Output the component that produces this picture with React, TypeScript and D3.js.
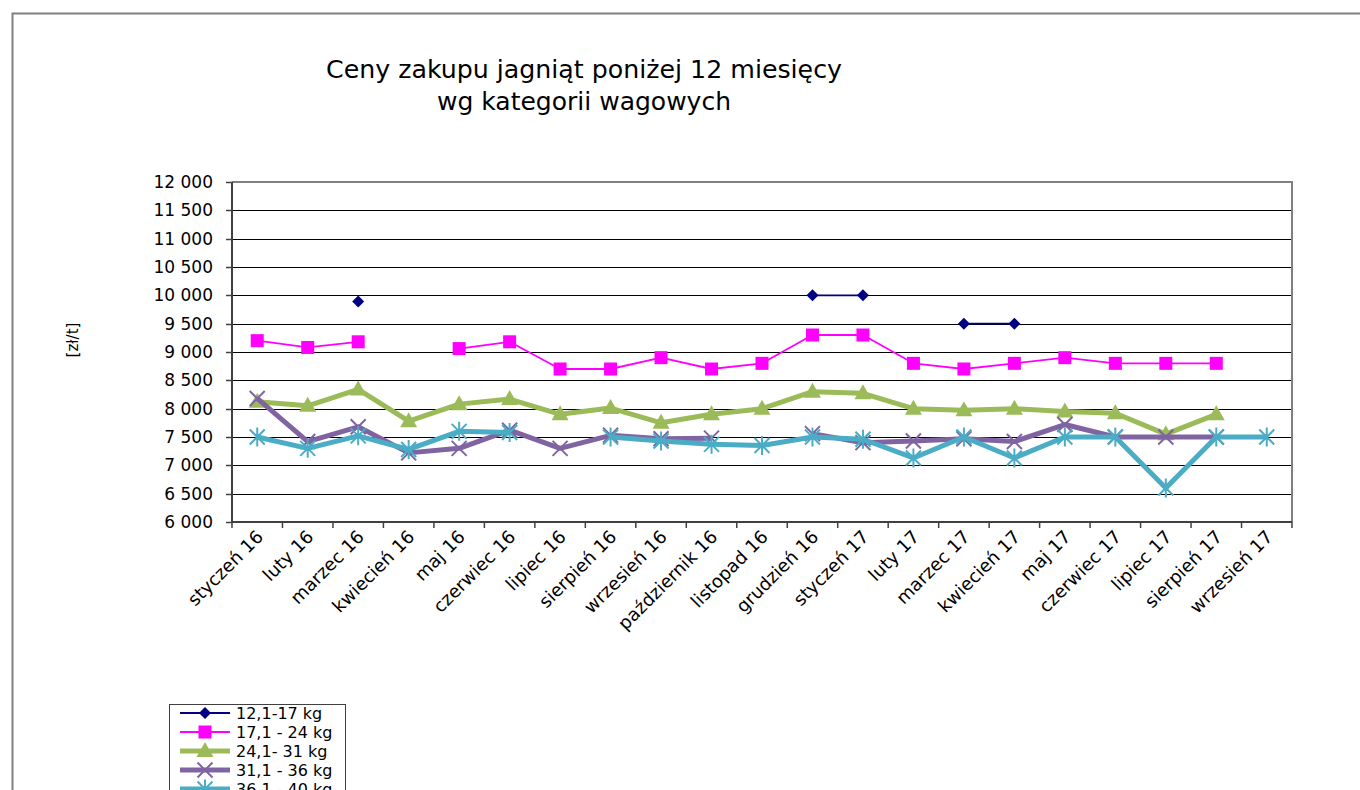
import React from 'react';
import * as d3 from 'd3';

const categories = ['styczeń 16','luty 16','marzec 16','kwiecień 16','maj 16','czerwiec 16','lipiec 16','sierpień 16','wrzesień 16','październik 16','listopad 16','grudzień 16','styczeń 17','luty 17','marzec 17','kwiecień 17','maj 17','czerwiec 17','lipiec 17','sierpień 17','wrzesień 17'];

const s12_17: (number | null)[] = [null,null,9890,null,null,null,null,null,null,null,null,10000,10000,null,9500,9500,null,null,null,null,null];
const s17_24: (number | null)[] = [9200,9080,9180,null,9060,9180,8700,8700,8900,8700,8800,9300,9300,8800,8700,8800,8900,8800,8800,8800,null];
const s24_31: (number | null)[] = [8120,8050,8340,7780,8080,8170,7900,8010,7750,7900,8000,8300,8270,8000,7970,8000,7950,7920,7550,7900,null];
const s31_36: (number | null)[] = [8180,7420,7680,7220,7300,7620,7300,7530,7470,7480,null,7560,7400,7430,7470,7420,7720,7500,7500,7500,null];
const s36_40: (number | null)[] = [7500,7300,7520,7280,7600,7580,null,7500,7430,7370,7350,7500,7460,7130,7500,7130,7500,7500,6600,7500,7500];

const seriesNames = ['12,1-17 kg','17,1 - 24 kg','24,1- 31 kg','31,1 - 36 kg','36,1 - 40 kg'];
const yTicks = [6000,6500,7000,7500,8000,8500,9000,9500,10000,10500,11000,11500,12000];

const titleLines = ['Ceny zakupu jagniąt poniżej 12 miesięcy', 'wg kategorii wagowych'];
const yAxisTitle = '[zł/t]';

type Style = { color: string; width: number; marker: string };
const styles: Style[] = [
  { color: '#000080', width: 1.8, marker: 'diamond' },
  { color: '#FF00FF', width: 1.8, marker: 'square' },
  { color: '#9BBB59', width: 5, marker: 'triangle' },
  { color: '#8064A2', width: 5, marker: 'x' },
  { color: '#4BACC6', width: 5, marker: 'asterisk' },
];
const allSeries = [s12_17, s17_24, s24_31, s31_36, s36_40];

const L = 232, R = 1292, T = 182, B = 522;
const x = d3.scaleBand<string>().domain(categories).range([L, R]).padding(0);
const y = d3.scaleLinear().domain([6000, 12000]).range([B, T]);
const fmt = (v: number) => d3.format(',')(v).replace(/,/g, ' ');

function Marker({ kind, cx, cy, color }: { kind: string; cx: number; cy: number; color: string }) {
  if (kind === 'diamond') {
    const r = 6;
    return <path d={`M${cx},${cy - r}L${cx + r},${cy}L${cx},${cy + r}L${cx - r},${cy}Z`} fill={color} />;
  }
  if (kind === 'square') {
    const s = 13;
    return <rect x={cx - s / 2} y={cy - s / 2} width={s} height={s} fill={color} />;
  }
  if (kind === 'triangle') {
    return <path d={`M${cx},${cy - 9}L${cx + 8.5},${cy + 6}L${cx - 8.5},${cy + 6}Z`} fill={color} />;
  }
  if (kind === 'x') {
    const r = 7.5;
    return <path d={`M${cx - r},${cy - r}L${cx + r},${cy + r}M${cx - r},${cy + r}L${cx + r},${cy - r}`} stroke={color} strokeWidth={2} fill="none" />;
  }
  const r = 7.5;
  return <path d={`M${cx - r},${cy - r}L${cx + r},${cy + r}M${cx - r},${cy + r}L${cx + r},${cy - r}M${cx},${cy - 9.5}L${cx},${cy + 9.5}`} stroke={color} strokeWidth={2} fill="none" />;
}

export default function App() {
  const bw = x.bandwidth();
  const cx = (c: string) => (x(c) as number) + bw / 2;
  const line = d3.line<number | null>()
    .defined(d => d != null)
    .x((_, i) => cx(categories[i]))
    .y(d => y(d as number));
  const boundaries = d3.range(categories.length + 1).map(k => L + k * bw);
  const font = 'DejaVu Sans, Arial, sans-serif';

  return (
    <svg width={1360} height={790} style={{ position: 'absolute', left: 0, top: 0, background: '#fff' }} fontFamily={font}>
      <rect x={0} y={0} width={1360} height={790} fill="#fff" />
      {/* outer chart border */}
      <path d="M12.5,800V13.5H1370" fill="none" stroke="#808080" strokeWidth={2} />
      {/* title */}
      <text x={584} y={78} textAnchor="middle" fontSize={24} fontFamily="'Comic Sans MS', 'DejaVu Sans', sans-serif" textLength={516} lengthAdjust="spacingAndGlyphs">{titleLines[0]}</text>
      <text x={584} y={110} textAnchor="middle" fontSize={24} fontFamily="'Comic Sans MS', 'DejaVu Sans', sans-serif" textLength={294} lengthAdjust="spacingAndGlyphs">{titleLines[1]}</text>
      {/* gridlines */}
      {yTicks.map(t => (
        <line key={t} x1={L} x2={R} y1={Math.round(y(t)) + 0.5} y2={Math.round(y(t)) + 0.5} stroke="#000" strokeWidth={1} />
      ))}
      {/* plot border top/right */}
      <path d={`M${L},${T}H${R}V${B}`} fill="none" stroke="#808080" strokeWidth={2} />
      {/* axes */}
      <line x1={L} x2={L} y1={T} y2={B} stroke="#404040" strokeWidth={2} />
      <line x1={L} x2={R} y1={B} y2={B} stroke="#404040" strokeWidth={2} />
      {yTicks.map(t => (
        <line key={'yt' + t} x1={L - 6} x2={L} y1={Math.round(y(t)) + 0.5} y2={Math.round(y(t)) + 0.5} stroke="#404040" strokeWidth={1.5} />
      ))}
      {boundaries.map((b, k) => (
        <line key={'xt' + k} x1={b} x2={b} y1={B} y2={B + 6} stroke="#404040" strokeWidth={1.5} />
      ))}
      {/* y labels */}
      {yTicks.map(t => (
        <text key={'yl' + t} x={213} y={y(t) + 6} textAnchor="end" fontSize={17} fill="#000">{fmt(t)}</text>
      ))}
      {/* y axis title */}
      <text transform="translate(78,340) rotate(-90)" textAnchor="middle" fontSize={15}>{yAxisTitle}</text>
      {/* x labels */}
      {categories.map(c => (
        <text key={'xl' + c} transform={`translate(${cx(c) + 7},${538}) rotate(-45)`} textAnchor="end" fontSize={18} fill="#000">{c}</text>
      ))}
      {/* series */}
      {allSeries.map((s, si) => (
        <g key={'s' + si}>
          <path d={line(s) || ''} fill="none" stroke={styles[si].color} strokeWidth={styles[si].width} strokeLinejoin="round" />
          {s.map((v, i) => v == null ? null : (
            <Marker key={i} kind={styles[si].marker} cx={cx(categories[i])} cy={y(v)} color={styles[si].color} />
          ))}
        </g>
      ))}
      {/* legend */}
      <rect x={169.5} y={704.5} width={176} height={120} fill="#fff" stroke="#404040" strokeWidth={1} />
      {seriesNames.map((n, i) => {
        const ly = 713 + i * 19;
        return (
          <g key={'lg' + i}>
            <line x1={180} x2={230} y1={ly} y2={ly} stroke={styles[i].color} strokeWidth={styles[i].width} />
            <Marker kind={styles[i].marker} cx={205} cy={ly} color={styles[i].color} />
            <text x={236} y={ly + 6} fontSize={16} fill="#000">{n}</text>
          </g>
        );
      })}
    </svg>
  );
}
